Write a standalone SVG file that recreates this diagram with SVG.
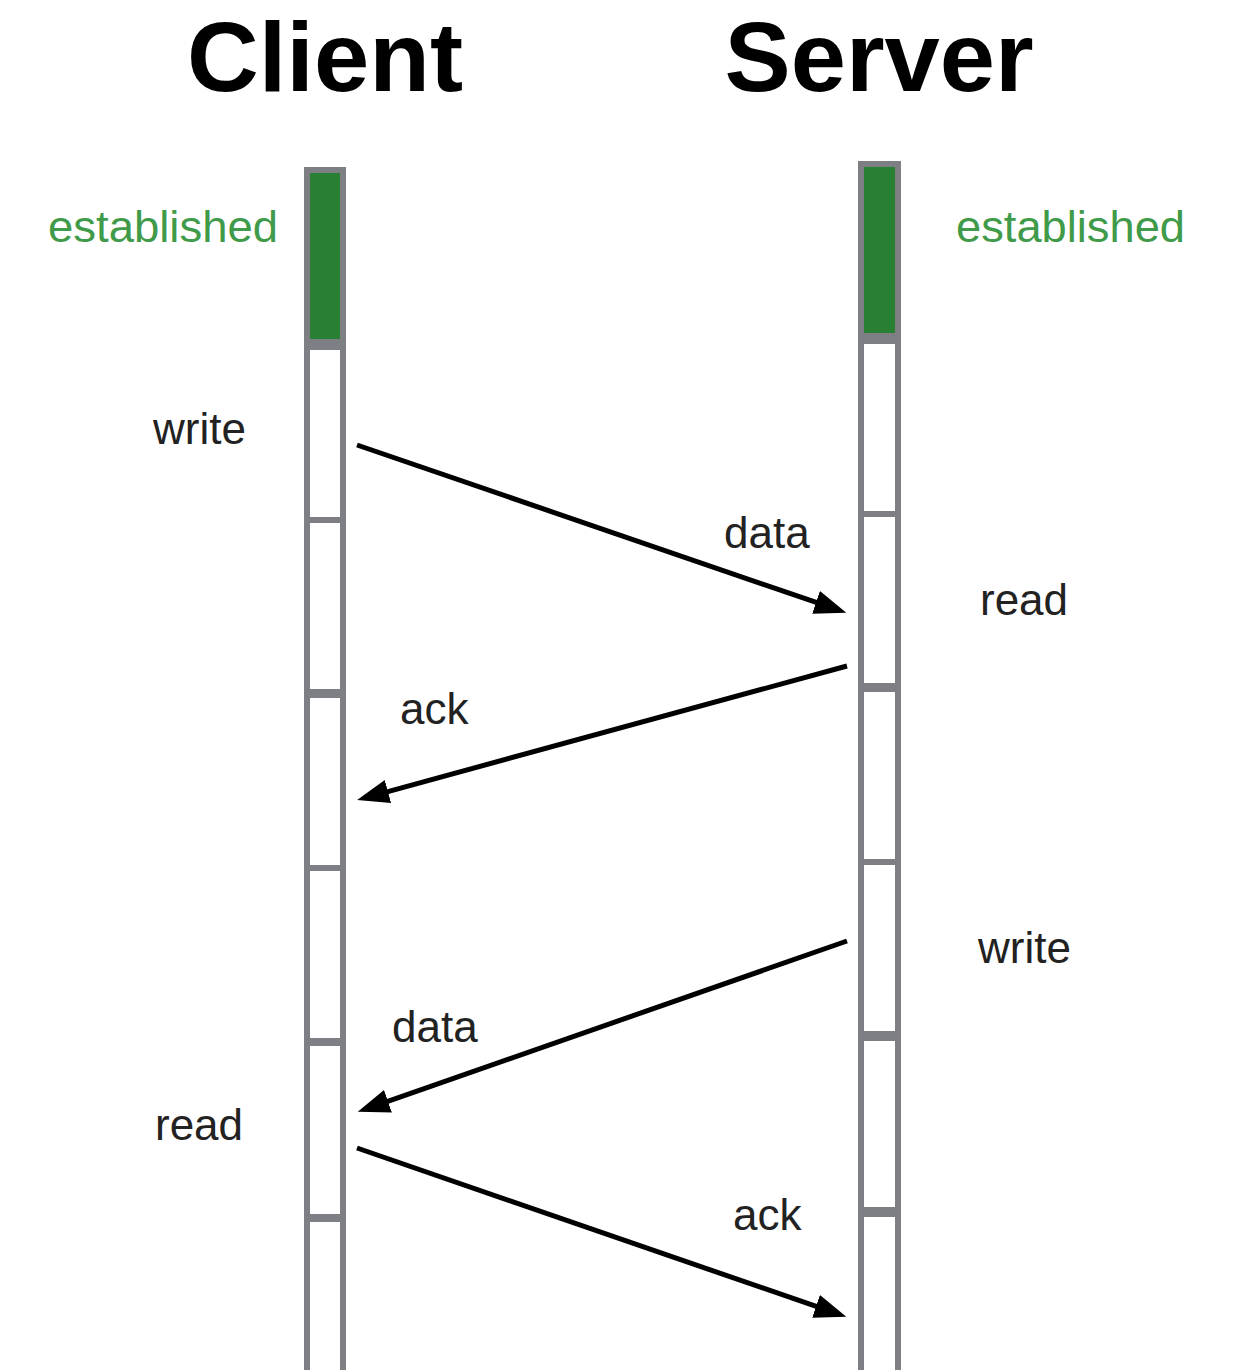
<svg xmlns="http://www.w3.org/2000/svg" width="1240" height="1370" viewBox="0 0 1240 1370">
<style>
.title{font-family:"Liberation Sans",Arial,sans-serif;font-weight:bold;font-size:98px;fill:#000}
.lbl{font-family:"Liberation Sans",Arial,sans-serif;font-size:44px;fill:#222}
.est{font-family:"Liberation Sans",Arial,sans-serif;font-size:44px;fill:#3f9a4a}
.bar{fill:#fff;stroke:#7d7f84;stroke-width:6}
.sep{fill:#7d7f84}
.green{fill:#2a8032}
.conn{stroke:#000;stroke-width:5;fill:none;marker-end:url(#ah)}
</style>
<defs>
<marker id="ah" markerUnits="userSpaceOnUse" markerWidth="34" markerHeight="26" viewBox="0 -13 34 26" refX="1" refY="0" orient="auto">
<path d="M0,-12 L32,0 L0,12 Z" fill="#000"/>
</marker>
</defs>
<rect width="1240" height="1370" fill="#fff"/>
<g id="client">
<text class="title" x="325" y="91" text-anchor="middle" textLength="276" lengthAdjust="spacingAndGlyphs">Client</text>
<rect class="bar" x="307" y="170" width="36" height="1220"/>
<rect class="green" x="310" y="173" width="30" height="166"/>
<rect class="sep" x="304" y="339" width="42" height="11"/>
<rect class="sep" x="304" y="517" width="42" height="6"/>
<rect class="sep" x="304" y="689" width="42" height="9"/>
<rect class="sep" x="304" y="865" width="42" height="6"/>
<rect class="sep" x="304" y="1038" width="42" height="8"/>
<rect class="sep" x="304" y="1214" width="42" height="8"/>
</g>
<g id="server">
<text class="title" x="879" y="91" text-anchor="middle" textLength="309" lengthAdjust="spacingAndGlyphs">Server</text>
<rect class="bar" x="861" y="164" width="37" height="1226"/>
<rect class="green" x="864" y="167" width="31" height="166"/>
<rect class="sep" x="858" y="333" width="43" height="11"/>
<rect class="sep" x="858" y="511" width="43" height="6"/>
<rect class="sep" x="858" y="683" width="43" height="9"/>
<rect class="sep" x="858" y="859" width="43" height="6"/>
<rect class="sep" x="858" y="1031" width="43" height="10"/>
<rect class="sep" x="858" y="1207" width="43" height="10"/>
</g>
<g id="labels">
<text class="est" x="48" y="242" textLength="230" lengthAdjust="spacingAndGlyphs">established</text>
<text class="est" x="956" y="242" textLength="229" lengthAdjust="spacingAndGlyphs">established</text>
<text class="lbl" x="153" y="444">write</text>
<text class="lbl" x="724" y="548">data</text>
<text class="lbl" x="980" y="615">read</text>
<text class="lbl" x="400" y="724">ack</text>
<text class="lbl" x="978" y="963">write</text>
<text class="lbl" x="392" y="1042">data</text>
<text class="lbl" x="155" y="1140">read</text>
<text class="lbl" x="733" y="1230">ack</text>
</g>
<g id="connectors">
<line class="conn" x1="357" y1="445" x2="817" y2="602.7"/>
<line class="conn" x1="847" y1="666" x2="387" y2="791.8"/>
<line class="conn" x1="847" y1="941" x2="387" y2="1101.6"/>
<line class="conn" x1="357" y1="1148" x2="817" y2="1306.7"/>
</g>
</svg>
